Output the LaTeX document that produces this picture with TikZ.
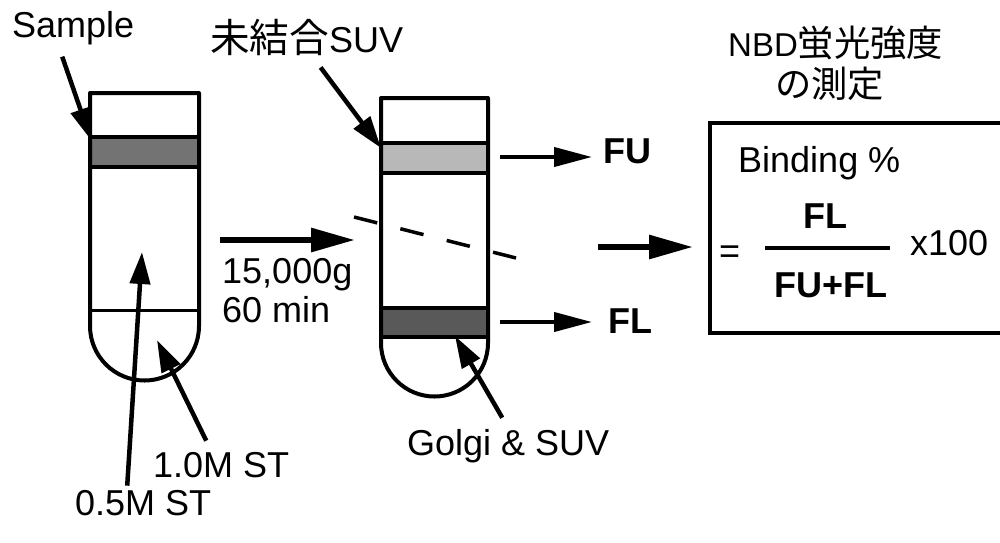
\documentclass[tikz,border=0pt]{standalone}
\usepackage{fontspec}
\setmainfont{Liberation Sans}
\newfontfamily\jpfont[Scale=1.1]{Noto Sans CJK JP}
\usetikzlibrary{arrows.meta}
\definecolor{bandA}{gray}{0.45}
\definecolor{bandB}{gray}{0.72}
\definecolor{bandC}{gray}{0.35}

\begin{document}
\begin{tikzpicture}[
 x=1pt,y=-1pt,font=\fontsize{36}{39}\selectfont,
 tube/.style={line width=4pt,line join=round},
 lab/.style={inner sep=0pt,anchor=base west},
 bold/.style={inner sep=0pt,font=\fontsize{36}{39}\selectfont\bfseries},
 point/.style={-{Triangle[length=32pt,width=20pt]},line width=4.5pt},
 spin/.style={-{Triangle[length=44pt,width=23pt]},line width=6pt},
 readout/.style={-{Triangle[length=38pt,width=19pt]},line width=4pt},
 cut/.style={line width=3.5pt,dash pattern=on 23.9pt off 23.9pt}
]
\useasboundingbox (0,0) rectangle (1000,542);

\fill[bandA] (90,137) rectangle (199,167);
\draw[tube] (90,93) -- (199,93) -- (199,326) arc[start angle=0,end angle=-180,radius=54.5pt] -- cycle;
\draw[tube] (90,137) -- (199,137) (90,167) -- (199,167);
\draw[line width=3pt] (90,310) -- (199,310);

\fill[bandB] (381,143) rectangle (488,173);
\fill[bandC] (381,308) rectangle (488,337);
\draw[tube] (381,98) -- (488,98) -- (488,343) arc[start angle=0,end angle=-180,radius=53.5pt] -- cycle;
\draw[tube] (381,143) -- (488,143) (381,173) -- (488,173) (381,308) -- (488,308) (381,337) -- (488,337);

\coordinate (sampletip) at (91,140);
\coordinate (lowtip) at (142,252);
\coordinate (hightip) at (157,340);
\coordinate (freetip) at (381,148);
\coordinate (golgitip) at (455,336);
\coordinate (cutA) at (354,217);
\coordinate (cutB) at (516,258);
\coordinate (spinA) at (220,240);
\coordinate (spinB) at (355,240);
\coordinate (spinC) at (598,247);
\coordinate (spinD) at (693,247);
\coordinate (fuA) at (500,157);
\coordinate (flA) at (500,322);

\node[lab] (sample) at (12,37) {Sample};
\node[lab] (free) at (210,52) {{\jpfont 未結合}SUV};
\node[lab] (speed) at (222,283) {15,000g};
\node[lab] (time) at (222,322) {60 min};
\node[lab] (high) at (153,477) {1.0M ST};
\node[lab] (low) at (75,515) {0.5M ST};
\node[lab] (golgi) at (407,455) {Golgi \& SUV};
\node[bold,anchor=base west] (fu) at (603,163) {FU};
\node[bold,anchor=base west] (fl) at (608,333) {FL};

\node[lab,font=\fontsize{33}{36}\selectfont] (nbd) at (728,56) {NBD{\jpfont 蛍光強度}};
\node[lab,font=\fontsize{33}{36}\selectfont] (meas) at (775,97) {\jpfont の測定};
\node[lab] (bind) at (738,172) {Binding \%};
\node[lab] (eq) at (719,263) {=};
\node[bold,anchor=base] (num) at (825,228) {FL};
\node[bold,anchor=base] (den) at (831,297) {FU+FL};
\node[lab] (times) at (910,255) {x100};
\coordinate (barA) at (765,248);
\coordinate (barB) at (890,248);

\draw[line width=3.5pt] (1002,123) -- (710,123) -- (710,333) -- (1002,333);
\draw[line width=4.5pt] (barA) -- (barB);

\draw[cut] (cutA) -- (cutB);
\draw[spin] (spinA) -- (spinB);
\draw[spin] (spinC) -- (spinD);
\draw[readout,shorten >=11pt] (fuA) -- (fuA -| fu.west);
\draw[readout,shorten >=16pt] (flA) -- (flA -| fl.west);

\draw[point] ([xshift=-11pt,yshift=-12pt]sample.south) -- (sampletip);
\draw[point] ([xshift=14pt,yshift=-12pt]free.south) -- (freetip);
\draw[point] ([xshift=-16pt,yshift=4pt]low.north) -- (lowtip);
\draw[point] ([xshift=-15pt,yshift=11pt]high.north) -- (hightip);
\draw[point] ([xshift=-6pt,yshift=11pt]golgi.north) -- (golgitip);
\end{tikzpicture}
\end{document}
